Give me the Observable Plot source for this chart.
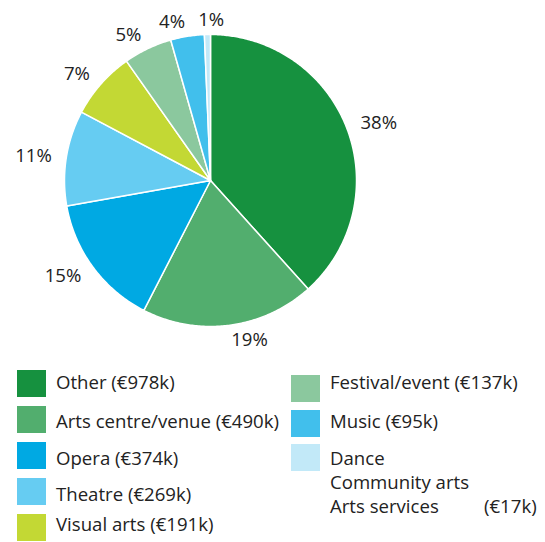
<!DOCTYPE html>
<html>
<head>
<meta charset="utf-8">
<script src="https://cdn.jsdelivr.net/npm/d3@7"></script>
<script src="https://cdn.jsdelivr.net/npm/@observablehq/plot@0.6"></script>
<style>
  body { margin: 0; background: #fff; font-family: "Open Sans", "Noto Sans", sans-serif; color: #222; }
  #wrap { position: relative; width: 545px; height: 542px; overflow: hidden; }
  .sw { position: absolute; width: 29px; height: 27px; }
  .lbl { position: absolute; white-space: pre; font-size: 18.6px; line-height: 24px; }
</style>
</head>
<body>
<div id="wrap"><div id="chart"></div><div id="legend"></div></div>
<script>
const categories = ["Other", "Arts centre/venue", "Opera", "Theatre", "Visual arts", "Festival/event", "Music", "Dance / Community arts / Arts services"];
const values = [978, 490, 374, 269, 191, 137, 95, 17];
const colors = ["#16913f", "#52ae6e", "#00a9e3", "#66ccf2", "#c3d834", "#8bc89e", "#41bfec", "#c2e9f8"];
const legendLabels = ["Other (€978k)", "Arts centre/venue (€490k)", "Opera (€374k)", "Theatre (€269k)", "Visual arts (€191k)", "Festival/event (€137k)", "Music (€95k)", "Dance\nCommunity arts\nArts services"];
const legendSuffix = ["", "", "", "", "", "", "", "(€17k)"];

const total = d3.sum(values);
let cum = 0;
const slices = categories.map((c, i) => {
  const a0 = cum / total * 2 * Math.PI;
  cum += values[i];
  const a1 = cum / total * 2 * Math.PI;
  return {cat: c, a0, a1, mid: (a0 + a1) / 2, pct: Math.round(values[i] / total * 100)};
});

const pts = [];
for (const s of slices) {
  pts.push({cat: s.cat, x: 0, y: 0});
  const n = Math.max(4, Math.ceil((s.a1 - s.a0) / 0.01));
  for (let k = 0; k <= n; k++) {
    const a = s.a0 + (s.a1 - s.a0) * k / n;
    pts.push({cat: s.cat, x: Math.sin(a), y: Math.cos(a)});
  }
  pts.push({cat: s.cat, x: 0, y: 0});
}

const lr = 1.10;
const labels = slices.map(s => ({
  x: lr * Math.sin(s.mid), y: lr * Math.cos(s.mid), text: s.pct + "%",
  side: Math.sin(s.mid) > 0.1 ? "start" : Math.sin(s.mid) < -0.1 ? "end" : "middle"
}));

const R = 146, cx = 210, cy = 180;
const chart = Plot.plot({
  width: 545, height: 360,
  margin: 0,
  x: {domain: [-1, 1], range: [cx - R, cx + R], axis: null},
  y: {domain: [-1, 1], range: [cy + R, cy - R], axis: null},
  color: {domain: categories, range: colors},
  style: {fontFamily: "'Open Sans', 'Noto Sans', sans-serif", background: "white"},
  marks: [
    Plot.line(pts, {x: "x", y: "y", z: "cat", fill: "cat", stroke: "white", strokeWidth: 1.5, strokeLinejoin: "round", curve: "linear"}),
    ...["start", "end", "middle"].map(side =>
      Plot.text(labels.filter(d => d.side === side), {x: "x", y: "y", text: "text", textAnchor: side, fontSize: 18.6, fill: "#222", dx: side === "middle" ? 4 : 0}))
  ]
});
document.getElementById("chart").appendChild(chart);

const legend = document.getElementById("legend");
const textTopsLeft = [370, 409, 446, 482, 512];
const textTopsRight = [370, 409, 446];
categories.forEach((c, i) => {
  const col = i < 5 ? 0 : 1;
  const row = i < 5 ? i : i - 5;
  const x = col === 0 ? 17 : 291;
  const y = col === 0 ? 370 + row * 36 : 375 + row * 34.5;
  const sw = document.createElement("div");
  sw.className = "sw";
  sw.style.left = x + "px"; sw.style.top = y + "px"; sw.style.background = colors[i];
  legend.appendChild(sw);
  const ty = col === 0 ? textTopsLeft[row] : textTopsRight[row];
  const t = document.createElement("div");
  t.className = "lbl";
  t.style.left = (x + 39) + "px"; t.style.top = ty + "px";
  t.textContent = legendLabels[i];
  legend.appendChild(t);
  if (legendSuffix[i]) {
    const s = document.createElement("div");
    s.className = "lbl";
    s.style.left = "484px"; s.style.top = (ty + 48) + "px";
    s.textContent = legendSuffix[i];
    legend.appendChild(s);
  }
});
</script>
</body>
</html>
